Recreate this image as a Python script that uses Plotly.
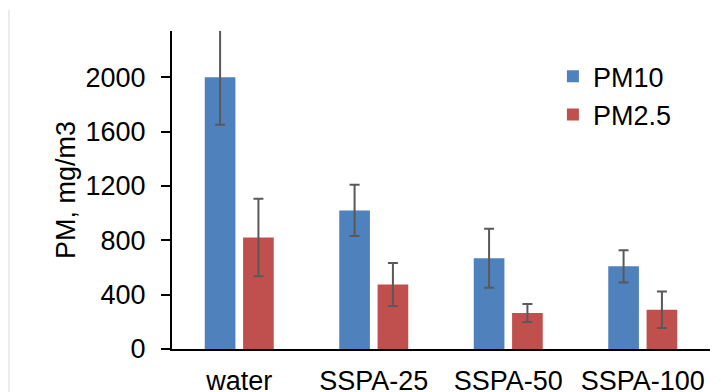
import plotly.graph_objects as go

categories = ["water", "SSPA-25", "SSPA-50", "SSPA-100"]
pm10 = [2000, 1020, 668, 608]
pm10_err = [350, 188, 217, 119]
pm25 = [820, 475, 265, 289]
pm25_err = [285, 158, 66, 135]
y_ticks = [0, 400, 800, 1200, 1600, 2000]

FONT = "Liberation Sans, Arial, sans-serif"
FS = 27
err_style = dict(type="data", color="#595959", thickness=2, width=5)

fig = go.Figure()
fig.add_trace(go.Bar(
    name="PM10", x=categories, y=pm10,
    error_y=dict(array=pm10_err, **err_style),
    marker=dict(color="#4F81BD", line=dict(width=0)),
    cliponaxis=False,
))
fig.add_trace(go.Bar(
    name="PM2.5", x=categories, y=pm25,
    error_y=dict(array=pm25_err, **err_style),
    marker=dict(color="#C0504D", line=dict(width=0)),
    cliponaxis=False,
))

fig.update_layout(
    width=721, height=392,
    margin=dict(l=164, r=19, t=23, b=51),
    paper_bgcolor="white", plot_bgcolor="white",
    font=dict(family=FONT, size=FS, color="#000000"),
    barmode="group", bargap=0.43, bargroupgap=0.2,
    showlegend=True,
    legend=dict(x=0.708, y=0.933, xanchor="left", yanchor="top",
                bgcolor="rgba(0,0,0,0)", font=dict(size=FS)),
    xaxis=dict(showline=True, linecolor="#000000", linewidth=2,
               ticks="", showgrid=False, ticklabelstandoff=7,
               automargin=False, tickfont=dict(size=FS)),
    yaxis=dict(range=[0, 2340], tickvals=y_ticks, showline=True,
               linecolor="#000000", linewidth=2, ticks="outside",
               ticklen=9, tickwidth=2, tickcolor="#000000",
               showgrid=False, zeroline=False, ticklabelstandoff=10,
               automargin=False, tickfont=dict(size=FS),
               title=dict(text="PM, mg/m3", standoff=2,
                          font=dict(size=FS))),
    shapes=[dict(type="line", xref="paper", yref="paper",
                 x0=-0.303, x1=-0.303, y0=1.066, y1=-0.2,
                 line=dict(color="#d9d9d9", width=1))],
)

fig.write_html("out.html")
